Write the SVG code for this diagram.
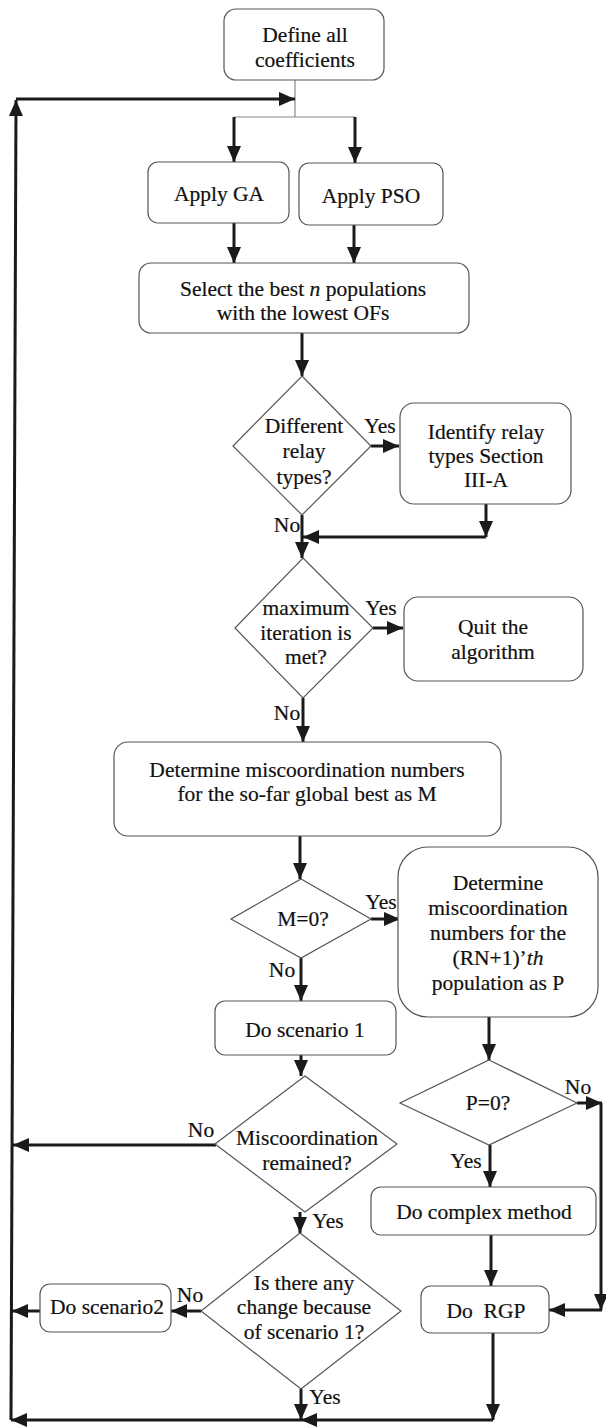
<svg xmlns="http://www.w3.org/2000/svg" width="606" height="1427" viewBox="0 0 606 1427">
<style>
.b{fill:#fff;stroke:#555;stroke-width:1.2}
.t{font-family:"Liberation Serif","Times New Roman",serif;font-size:21.5px;fill:#111;stroke:#111;stroke-width:0.2;text-anchor:middle;dominant-baseline:central}
.c{stroke:#1a1a1a;stroke-width:3;fill:none}
.thin{stroke:#888;stroke-width:1.2;fill:none}
</style>
<defs>
<marker id="ah" markerUnits="userSpaceOnUse" markerWidth="16" markerHeight="16" viewBox="0 0 16 16" refX="16" refY="8" orient="auto">
<path d="M0,1 L16,8 L0,15 z" fill="#1a1a1a"/>
</marker>
</defs>
<rect width="606" height="1427" fill="#fff"/>
<g id="connectors">
<path class="thin" d="M295,80 V117 M234,117 H355"/>
<path class="c" d="M11,1420 L16,100" marker-end="url(#ah)"/>
<path class="c" d="M16,99 H295" marker-end="url(#ah)"/>
<path class="c" d="M234,117 V162" marker-end="url(#ah)"/>
<path class="c" d="M355,117 V163" marker-end="url(#ah)"/>
<path class="c" d="M234,223 V263" marker-end="url(#ah)"/>
<path class="c" d="M354,225 V263" marker-end="url(#ah)"/>
<path class="c" d="M302,333 V376" marker-end="url(#ah)"/>
<path class="c" d="M371,446 H399" marker-end="url(#ah)"/>
<path class="c" d="M486,504 V537" marker-end="url(#ah)"/>
<path class="c" d="M486,537 H303" marker-end="url(#ah)"/>
<path class="c" d="M302,515 V558" marker-end="url(#ah)"/>
<path class="c" d="M373,628 H403" marker-end="url(#ah)"/>
<path class="c" d="M303,698 V742" marker-end="url(#ah)"/>
<path class="c" d="M300,836 V879" marker-end="url(#ah)"/>
<path class="c" d="M371,919 H400" marker-end="url(#ah)"/>
<path class="c" d="M301,958 V1001" marker-end="url(#ah)"/>
<path class="c" d="M301,1055 V1076" marker-end="url(#ah)"/>
<path class="c" d="M489,1017 V1060" marker-end="url(#ah)"/>
<path class="c" d="M577,1103 H602" marker-end="url(#ah)"/>
<path class="c" d="M601,1103 V1310" marker-end="url(#ah)"/>
<path class="c" d="M602,1310 H549" marker-end="url(#ah)"/>
<path class="c" d="M216,1145 H13" marker-end="url(#ah)"/>
<path class="c" d="M300,1212 V1233" marker-end="url(#ah)"/>
<path class="c" d="M490,1145 V1187" marker-end="url(#ah)"/>
<path class="c" d="M491,1235 V1286" marker-end="url(#ah)"/>
<path class="c" d="M201,1311 H171" marker-end="url(#ah)"/>
<path class="c" d="M40,1311 H12" marker-end="url(#ah)"/>
<path class="c" d="M301,1389 V1420" marker-end="url(#ah)"/>
<path class="c" d="M493,1333 V1420" marker-end="url(#ah)"/>
<path class="c" d="M493,1420 H301" marker-end="url(#ah)"/>
<path class="c" d="M301,1420 H11" marker-end="url(#ah)"/>
</g>
<g id="define"><rect class="b" x="224" y="9" width="160" height="71" rx="12"/><text class="t" x="305" y="35">Define all</text><text class="t" x="305" y="60">coefficients</text></g>
<g id="ga"><rect class="b" x="148" y="162" width="141" height="61" rx="10"/><text class="t" x="219" y="194">Apply GA</text></g>
<g id="pso"><rect class="b" x="299" y="163" width="144" height="62" rx="10"/><text class="t" x="371" y="196">Apply PSO</text></g>
<g id="select"><rect class="b" x="139" y="263" width="330" height="70" rx="12"/><text class="t" x="303" y="289">Select the best <tspan font-style="italic">n</tspan> populations</text><text class="t" x="303" y="313">with the lowest OFs</text></g>
<g id="d1"><polygon class="b" points="302,376 371,446 302,515 233,446"/><text class="t" x="304" y="426">Different</text><text class="t" x="304" y="451">relay</text><text class="t" x="304" y="477">types?</text></g>
<g id="identify"><rect class="b" x="400" y="403" width="171" height="101" rx="14"/><text class="t" x="486" y="432">Identify relay</text><text class="t" x="486" y="456">types Section</text><text class="t" x="486" y="480">III-A</text></g>
<g id="d2"><polygon class="b" points="303,558 373,628 303,698 235,628"/><text class="t" x="306" y="608">maximum</text><text class="t" x="306" y="633">iteration is</text><text class="t" x="306" y="657">met?</text></g>
<g id="quit"><rect class="b" x="404" y="597" width="179" height="84" rx="14"/><text class="t" x="493" y="627">Quit the</text><text class="t" x="493" y="652">algorithm</text></g>
<g id="determine"><rect class="b" x="114" y="742" width="387" height="94" rx="14"/><text class="t" x="307" y="770">Determine miscoordination numbers</text><text class="t" x="307" y="794">for the so-far global best as M</text></g>
<g id="d3"><polygon class="b" points="301,879 371,919 301,958 231,919"/><text class="t" x="303" y="919">M=0?</text></g>
<g id="det2"><rect class="b" x="398" y="847" width="200" height="170" rx="30"/><text class="t" x="498" y="883">Determine</text><text class="t" x="498" y="908">miscoordination</text><text class="t" x="498" y="933">numbers for the</text><text class="t" x="498" y="958">(RN+1)’<tspan font-style="italic">th</tspan></text><text class="t" x="498" y="983">population as P</text></g>
<g id="scen1"><rect class="b" x="215" y="1001" width="181" height="54" rx="10"/><text class="t" x="305" y="1030">Do scenario 1</text></g>
<g id="d4"><polygon class="b" points="305,1076 397,1144 305,1212 215,1144"/><text class="t" x="307" y="1138">Miscoordination</text><text class="t" x="307" y="1163">remained?</text></g>
<g id="p0"><polygon class="b" points="489,1060 577,1103 489,1145 400,1103"/><text class="t" x="488" y="1103">P=0?</text></g>
<g id="d5"><polygon class="b" points="300,1233 401,1311 301,1389 201,1311"/><text class="t" x="304" y="1283">Is there any</text><text class="t" x="304" y="1307">change because</text><text class="t" x="304" y="1332">of scenario 1?</text></g>
<g id="scen2"><rect class="b" x="40" y="1284" width="131" height="48" rx="10"/><text class="t" x="107" y="1307">Do scenario2</text></g>
<g id="complex"><rect class="b" x="371" y="1187" width="225" height="48" rx="10"/><text class="t" x="484" y="1212">Do complex method</text></g>
<g id="rgp"><rect class="b" x="421" y="1286" width="128" height="47" rx="10"/><text class="t" x="486" y="1311" xml:space="preserve">Do  RGP</text></g>
<g id="labels">
<text class="t" x="380" y="426">Yes</text>
<text class="t" x="287" y="525">No</text>
<text class="t" x="381" y="608">Yes</text>
<text class="t" x="287" y="713">No</text>
<text class="t" x="381" y="902">Yes</text>
<text class="t" x="282" y="970">No</text>
<text class="t" x="578" y="1087">No</text>
<text class="t" x="201" y="1130">No</text>
<text class="t" x="466" y="1161">Yes</text>
<text class="t" x="328" y="1221">Yes</text>
<text class="t" x="190" y="1295">No</text>
<text class="t" x="325" y="1397">Yes</text>
</g>
</svg>
